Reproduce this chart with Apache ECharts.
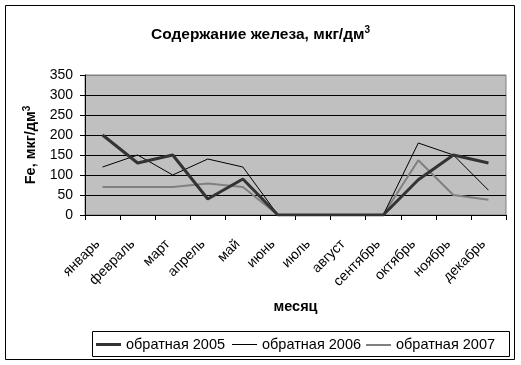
<!DOCTYPE html>
<html><head><meta charset="utf-8">
<script src="https://cdn.jsdelivr.net/npm/echarts@6/dist/echarts.min.js"></script>
<style>html,body{margin:0;padding:0;background:#fff}#c{width:521px;height:365px}</style>
</head><body><div id="c"></div>
<script>
const months = ['январь','февраль','март','апрель','май','июнь','июль','август','сентябрь','октябрь','ноябрь','декабрь'];
const s2005 = [200,130,150,40,90,0,0,0,0,88,150,130];
const s2006 = [120,150,100,140,120,0,0,0,0,180,150,62];
const s2007 = [70,70,70,79,70,0,0,0,0,137,50,38];
const seriesNames = ['обратная 2005','обратная 2006','обратная 2007'];
const yTicks = {min:0, max:350, interval:50};

const chart = echarts.init(document.getElementById('c'), null, {renderer:'canvas'});
const font = 'Arial, "Liberation Sans", sans-serif';
const legTxt = {fontFamily:font,fontSize:14.5,color:'#000',lineHeight:15};
chart.setOption({
  animation:false,
  backgroundColor:'#fff',
  textStyle:{fontFamily:font},
  title:{
    text:'{a|Содержание железа, мкг/дм}{s|3}',
    left:'center', top:20,
    textStyle:{rich:{
      a:{fontFamily:font,fontSize:15.5,fontWeight:'bold',color:'#000'},
      s:{fontFamily:font,fontSize:10,fontWeight:'bold',color:'#000',verticalAlign:'top',padding:[0,0,9,0]}
    }}
  },
  grid:{left:85,right:15,top:75,bottom:150,show:true,backgroundColor:'#C0C0C0',borderColor:'#808080',borderWidth:1},
  legend:[
    {left:96, top:337, padding:0, icon:'rect', itemWidth:25, itemHeight:3, textStyle:legTxt, data:[seriesNames[0]]},
    {left:232, top:337, padding:0, icon:'rect', itemWidth:25, itemHeight:1, textStyle:legTxt, data:[seriesNames[1]]},
    {left:366, top:337.5, padding:0, icon:'rect', itemWidth:25, itemHeight:2, textStyle:legTxt, data:[seriesNames[2]]}
  ],
  graphic:[
    {type:'rect',shape:{x:5.5,y:5.5,width:509,height:354},style:{fill:'none',stroke:'#000',lineWidth:1},silent:true},
    {type:'rect',shape:{x:92.5,y:331.5,width:417,height:25},style:{fill:'none',stroke:'#000',lineWidth:1},silent:true}
  ],
  xAxis:{
    type:'category', data:months, boundaryGap:true,
    name:'месяц', nameLocation:'middle', nameGap:84,
    nameTextStyle:{fontFamily:font,fontSize:14.5,fontWeight:'bold',color:'#000'},
    axisLine:{lineStyle:{color:'#000',width:1}},
    axisTick:{show:true,length:5,lineStyle:{color:'#000'}},
    axisLabel:{rotate:45,margin:22,padding:[0,7,0,0],fontFamily:font,fontSize:14,color:'#000',interval:0},
    splitLine:{show:false}
  },
  yAxis:{
    type:'value', min:yTicks.min, max:yTicks.max, interval:yTicks.interval,
    name:'{a|Fe, мкг/дм}{s|3}', nameLocation:'middle', nameGap:42, nameRotate:90,
    nameTextStyle:{rich:{
      a:{fontFamily:font,fontSize:14.5,fontWeight:'bold',color:'#000'},
      s:{fontFamily:font,fontSize:10,fontWeight:'bold',color:'#000',verticalAlign:'top',padding:[0,0,8,0]}
    }},
    axisLine:{show:true,lineStyle:{color:'#000',width:1}},
    axisTick:{show:true,length:5,lineStyle:{color:'#000'}},
    axisLabel:{margin:12,fontFamily:font,fontSize:14,color:'#000'},
    splitLine:{show:true,lineStyle:{color:['#000','#000','#000','#000','#000','#000','#000','#808080'],width:1}}
  },
  series:[
    {name:seriesNames[0],type:'line',data:s2005,symbol:'none',lineStyle:{color:'#333333',width:3},itemStyle:{color:'#333333'},z:5},
    {name:seriesNames[1],type:'line',data:s2006,symbol:'none',lineStyle:{color:'#000000',width:1},itemStyle:{color:'#000000'},z:4},
    {name:seriesNames[2],type:'line',data:s2007,symbol:'none',lineStyle:{color:'#808080',width:2},itemStyle:{color:'#808080'},z:3}
  ]
});
</script></body></html>
